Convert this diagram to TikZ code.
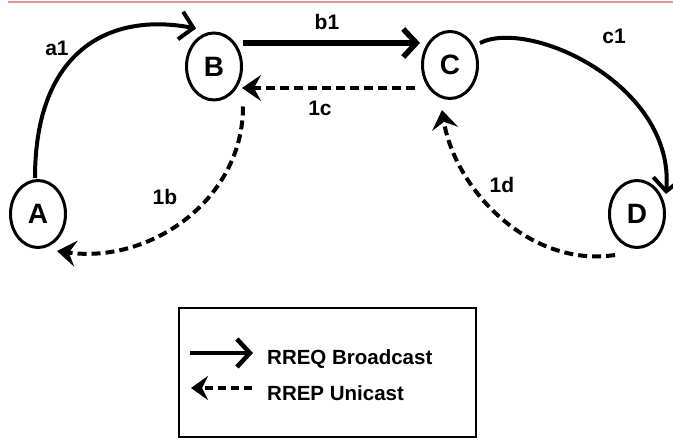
\documentclass[tikz,border=0pt]{standalone}
\usepackage{fontspec}
\setmainfont{Liberation Sans}
\usetikzlibrary{arrows.meta,shapes.geometric,calc}

\tikzset{
  station/.style={draw, ellipse, line width=3pt, minimum width=55pt,
    minimum height=67pt, inner sep=0pt,
    font=\fontsize{28}{28}\selectfont\bfseries},
  bcast/.style={line width=4pt, -{Straight Barb[length=13pt,width=28pt]}},
  ucast/.style={line width=4pt, dash pattern=on 9pt off 5pt,
    -{Stealth[length=19pt,width=26pt,inset=7pt]}},
  lbl/.style={font=\fontsize{21}{21}\selectfont\bfseries, inner sep=0pt},
  legtext/.style={font=\fontsize{20.5}{20.5}\selectfont\bfseries, inner sep=0pt, anchor=west},
}

\begin{document}
\begin{tikzpicture}[x=1pt, y=-1pt]
  \useasboundingbox (0,0) rectangle (673,443);

  % thin rule along the top edge
  \draw[line width=1.5pt, color={rgb,255:red,222;green,150;blue,150}] (8,2) -- (673,2);

  % stations
  \node[station] (A) at (38,214) {A};
  \node[station] (B) at (214,66.5) {B};
  \node[station] (C) at (450,65) {C};
  \node[station] (D) at (637,214) {D};

  % route request (broadcast)
  \draw[bcast] ($(A)+(-3,-36)$) .. controls (35,50) and (110,12) .. ($(B)+(-18,-38)$);
  \draw[bcast, line width=5.5pt] ($(B)+(29,-23.5)$) -- ($(C)+(-30,-22)$);
  \draw[bcast] ($(C)+(30,-22)$) .. controls (530,18) and (675,85) .. ($(D)+(29,-20)$);

  % route reply (unicast)
  \draw[ucast] ($(C)+(-35,23)$) -- ($(B)+(28,21.5)$);
  \draw[ucast] ($(B)+(29,40)$) .. controls (243,200) and (150,264) .. ($(A)+(19,37)$);
  \draw[ucast] ($(D)+(-22,41)$) .. controls (530,268) and (455,190) .. ($(C)+(-8,45)$);

  % labels
  \node[lbl] (la1) at (57,48) {a1};
  \node[lbl] (lb1) at (327,22) {b1};
  \node[lbl] (l1c) at (320,108) {1c};
  \node[lbl] (l1b) at (165,197) {1b};
  \node[lbl] (lc1) at (614,36) {c1};
  \node[lbl] (l1d) at (502,185) {1d};

  % legend
  \node[draw, line width=2pt, minimum width=297pt, minimum height=129pt,
        inner sep=0pt] (legend) at (327.5,372.5) {};
  \coordinate (s0) at (190,353);
  \coordinate (s1) at (253,353);
  \draw[bcast, line width=4.5pt] (s0) -- (s1);
  \node[legtext] (t1) at (267,359) {RREQ Broadcast};
  \coordinate (d0) at (252,388);
  \coordinate (d1) at (191,388);
  \draw[ucast, line width=3.5pt, dash pattern=on 8pt off 5pt,
        -{Stealth[length=17pt,width=24pt,inset=6pt]}] (d0) -- (d1);
  \node[legtext] (t2) at (267,393) {RREP Unicast};
\end{tikzpicture}
\end{document}
